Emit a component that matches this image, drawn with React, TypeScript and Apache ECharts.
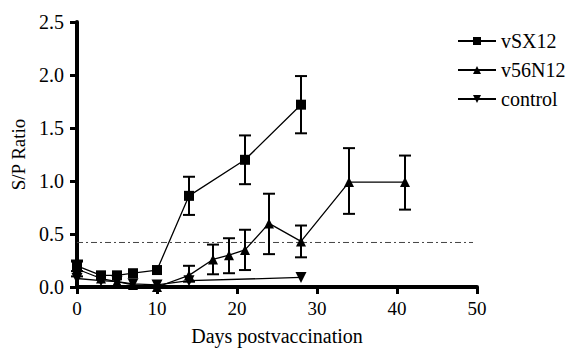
import React, { useEffect, useRef } from "react";
import * as echarts from "echarts";

const vSX12: [number, number][] = [[0, 0.2], [3, 0.11], [5, 0.11], [7, 0.13], [10, 0.16], [14, 0.86], [21, 1.2], [28, 1.72]];
const vSX12Err: [number, number, number][] = [[0, 0.15, 0.25], [14, 0.68, 1.04], [21, 0.97, 1.43], [28, 1.45, 1.99]];
const v56N12: [number, number][] = [[0, 0.17], [3, 0.08], [5, 0.05], [7, 0.02], [10, 0.0], [14, 0.11], [17, 0.26], [19, 0.3], [21, 0.35], [24, 0.6], [28, 0.43], [34, 0.99], [41, 0.99]];
const v56N12Err: [number, number, number][] = [[0, 0.1, 0.24], [14, 0.05, 0.2], [17, 0.12, 0.4], [19, 0.13, 0.46], [21, 0.16, 0.54], [24, 0.31, 0.88], [28, 0.28, 0.58], [34, 0.69, 1.31], [41, 0.73, 1.24]];
const control: [number, number][] = [[0, 0.08], [3, 0.06], [5, 0.05], [7, 0.03], [10, 0.02], [14, 0.06], [28, 0.09]];
const cutoff = 0.42;
const cutoffRange = [0, 49.5];

const font = "Liberation Serif";

function errSeries(data: [number, number, number][]) {
  return {
    type: "custom",
    data,
    z: 5,
    renderItem: (params: any, api: any) => {
      const x = api.value(0);
      const lo = api.coord([x, api.value(1)]);
      const hi = api.coord([x, api.value(2)]);
      const w = 6;
      const style = { stroke: "#000", lineWidth: 2 };
      return {
        type: "group",
        children: [
          { type: "line", shape: { x1: lo[0], y1: lo[1], x2: hi[0], y2: hi[1] }, style },
          { type: "line", shape: { x1: lo[0] - w, y1: lo[1], x2: lo[0] + w, y2: lo[1] }, style },
          { type: "line", shape: { x1: hi[0] - w, y1: hi[1], x2: hi[0] + w, y2: hi[1] }, style },
        ],
      };
    },
  };
}

export default function App() {
  const ref = useRef<HTMLDivElement>(null);
  useEffect(() => {
    const chart = echarts.init(ref.current!, null, { renderer: "svg" });
    const lineStyle = { color: "#000", width: 1.3 };
    chart.setOption({
      animation: false,
      backgroundColor: "#fff",
      textStyle: { fontFamily: font },
      grid: { left: 77, right: 92, top: 22, bottom: 63, containLabel: false, outerBoundsMode: "none" },
      legend: {
        orient: "vertical",
        left: 452,
        top: 26,
        itemWidth: 38,
        itemHeight: 10,
        itemGap: 9,
        data: ["vSX12", "v56N12", "control"],
        textStyle: { fontFamily: font, fontSize: 20, color: "#000" },
      },
      xAxis: {
        type: "value",
        min: 0,
        max: 50,
        interval: 10,
        name: "Days postvaccination",
        nameLocation: "middle",
        nameGap: 39,
        nameTextStyle: { fontFamily: font, fontSize: 20, color: "#000" },
        axisLine: { lineStyle: { color: "#000", width: 4, cap: "round" } },
        axisTick: { lineStyle: { color: "#000", width: 3 }, length: 7 },
        axisLabel: { fontFamily: font, fontSize: 19, color: "#000", margin: 12 },
        splitLine: { show: false },
      },
      yAxis: {
        type: "value",
        min: 0,
        max: 2.5,
        interval: 0.5,
        name: "S/P Ratio",
        nameLocation: "middle",
        nameGap: 46,
        nameTextStyle: { fontFamily: font, fontSize: 19, color: "#000" },
        axisLine: { show: true, lineStyle: { color: "#000", width: 4 } },
        axisTick: { show: true, lineStyle: { color: "#000", width: 3 }, length: 7 },
        axisLabel: { fontFamily: font, fontSize: 20, color: "#000", margin: 13, formatter: (v: number) => v.toFixed(1) },
        splitLine: { show: false },
      },
      series: [
        {
          name: "cutoff",
          type: "line",
          data: cutoffRange.map((x) => [x, cutoff]),
          symbol: "none",
          lineStyle: { color: "#444", width: 1, type: [6, 3, 2, 3] },
          silent: true,
          z: 1,
        },
        {
          name: "vSX12",
          type: "line",
          data: vSX12,
          symbol: "rect",
          symbolSize: 10,
          itemStyle: { color: "#000" },
          lineStyle,
          z: 4,
        },
        {
          name: "v56N12",
          type: "line",
          data: v56N12,
          symbol: "triangle",
          symbolSize: 10,
          itemStyle: { color: "#000" },
          lineStyle,
          z: 4,
        },
        {
          name: "control",
          type: "line",
          data: control,
          symbol: "path://M0,0 L10,0 L5,9 Z",
          symbolSize: 11,
          itemStyle: { color: "#000" },
          lineStyle,
          z: 4,
        },
        errSeries(vSX12Err),
        errSeries(v56N12Err),
      ],
    });
    return () => chart.dispose();
  }, []);
  return <div ref={ref} style={{ width: 569, height: 350, position: "absolute", left: 0, top: 0 }} />;
}
